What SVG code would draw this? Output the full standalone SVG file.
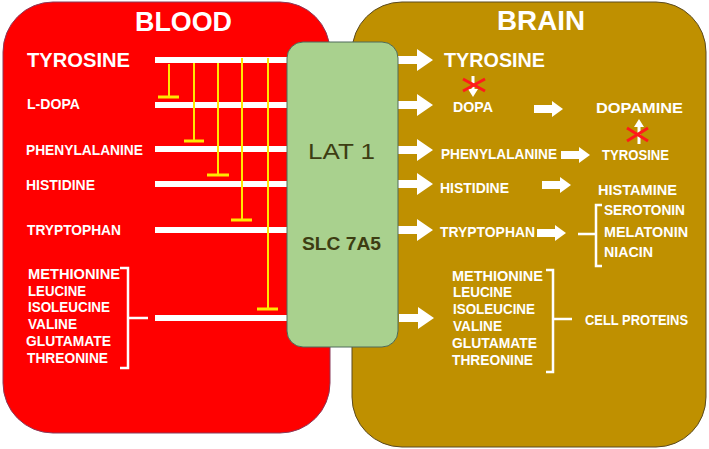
<svg xmlns="http://www.w3.org/2000/svg" width="709" height="449" viewBox="0 0 709 449">
<defs>
<style>
text{font-family:"Liberation Sans",Arial,sans-serif;font-weight:bold;fill:#ffffff}
.big{font-size:28px}
.tit{font-size:20px}
.lab{font-size:14px}
.grn{fill:#3d3d12;font-weight:normal}
.wl{stroke:#ffffff;stroke-width:6;fill:none}
.yl{stroke:#ffe800;stroke-width:2;fill:none}
.yb{stroke:#ffe800;stroke-width:3;fill:none}
.br{stroke:#ffffff;stroke-width:2.5;fill:none}
.rx{stroke:#ff1a1a;stroke-width:3;fill:none}
.th{stroke:#ffffff;stroke-width:3;fill:none}
</style>
<path id="bigArrow" d="M0,-4 H19 V-11 L35,0 L19,11 V4 H0 Z" fill="#ffffff"/>
<path id="smallArrow" d="M0,-4 H18 V-8 L29,0 L18,8 V4 H0 Z" fill="#ffffff"/>
</defs>

<g id="blood">
<rect x="3" y="2" width="327" height="431" rx="50" ry="50" fill="#ff0000" stroke="#8a3a5a" stroke-width="1"/>
<text class="big" x="135" y="31" textLength="97" lengthAdjust="spacingAndGlyphs">BLOOD</text>
</g>

<g id="brain">
<rect x="352" y="2" width="354" height="445" rx="50" ry="50" fill="#bf9000" stroke="#5a4a20" stroke-width="1"/>
<text class="big" x="497" y="30" textLength="88" lengthAdjust="spacingAndGlyphs">BRAIN</text>
</g>

<g id="blood-labels">
<text class="tit" x="27" y="67" textLength="103" lengthAdjust="spacingAndGlyphs">TYROSINE</text>
<text class="lab" x="27" y="109" textLength="53" lengthAdjust="spacingAndGlyphs">L-DOPA</text>
<text class="lab" x="26" y="155" textLength="117" lengthAdjust="spacingAndGlyphs">PHENYLALANINE</text>
<text class="lab" x="26" y="190" textLength="69" lengthAdjust="spacingAndGlyphs">HISTIDINE</text>
<text class="lab" x="27" y="235" textLength="94" lengthAdjust="spacingAndGlyphs">TRYPTOPHAN</text>
<text class="lab" x="28" y="279" textLength="92" lengthAdjust="spacingAndGlyphs">METHIONINE</text>
<text class="lab" x="28" y="296" textLength="58" lengthAdjust="spacingAndGlyphs">LEUCINE</text>
<text class="lab" x="28" y="312" textLength="82" lengthAdjust="spacingAndGlyphs">ISOLEUCINE</text>
<text class="lab" x="28" y="329" textLength="49" lengthAdjust="spacingAndGlyphs">VALINE</text>
<text class="lab" x="26" y="346" textLength="85" lengthAdjust="spacingAndGlyphs">GLUTAMATE</text>
<text class="lab" x="27" y="363" textLength="81" lengthAdjust="spacingAndGlyphs">THREONINE</text>
</g>

<g id="brain-labels">
<text class="tit" x="444" y="67" textLength="101" lengthAdjust="spacingAndGlyphs">TYROSINE</text>
<text class="lab" x="453" y="112" textLength="40" lengthAdjust="spacingAndGlyphs">DOPA</text>
<text class="lab" x="596" y="113" textLength="87" lengthAdjust="spacingAndGlyphs">DOPAMINE</text>
<text class="lab" x="441" y="159" textLength="116" lengthAdjust="spacingAndGlyphs">PHENYLALANINE</text>
<text class="lab" x="602" y="160" textLength="67" lengthAdjust="spacingAndGlyphs">TYROSINE</text>
<text class="lab" x="440" y="193" textLength="69" lengthAdjust="spacingAndGlyphs">HISTIDINE</text>
<text class="lab" x="598" y="195" textLength="79" lengthAdjust="spacingAndGlyphs">HISTAMINE</text>
<text class="lab" x="440" y="237" textLength="95" lengthAdjust="spacingAndGlyphs">TRYPTOPHAN</text>
<text class="lab" x="604" y="215" textLength="81" lengthAdjust="spacingAndGlyphs">SEROTONIN</text>
<text class="lab" x="604" y="237" textLength="84" lengthAdjust="spacingAndGlyphs">MELATONIN</text>
<text class="lab" x="604" y="257" textLength="49" lengthAdjust="spacingAndGlyphs">NIACIN</text>
<text class="lab" x="452" y="281" textLength="91" lengthAdjust="spacingAndGlyphs">METHIONINE</text>
<text class="lab" x="453" y="297" textLength="59" lengthAdjust="spacingAndGlyphs">LEUCINE</text>
<text class="lab" x="453" y="314" textLength="82" lengthAdjust="spacingAndGlyphs">ISOLEUCINE</text>
<text class="lab" x="453" y="331" textLength="49" lengthAdjust="spacingAndGlyphs">VALINE</text>
<text class="lab" x="452" y="348" textLength="85" lengthAdjust="spacingAndGlyphs">GLUTAMATE</text>
<text class="lab" x="452" y="365" textLength="81" lengthAdjust="spacingAndGlyphs">THREONINE</text>
<text class="lab" x="585" y="325" textLength="103" lengthAdjust="spacingAndGlyphs">CELL PROTEINS</text>
</g>

<g id="connectors">
<line class="wl" x1="155" y1="60" x2="290" y2="60"/>
<line class="wl" x1="155" y1="105" x2="290" y2="105"/>
<line class="wl" x1="155" y1="149" x2="290" y2="149"/>
<line class="wl" x1="155" y1="184" x2="290" y2="184"/>
<line class="wl" x1="155" y1="230" x2="290" y2="230"/>
<line class="wl" x1="155" y1="318" x2="290" y2="318"/>

<line class="yl" x1="169" y1="64" x2="169" y2="97"/>
<line class="yb" x1="158" y1="97" x2="179" y2="97"/>
<line class="yl" x1="194" y1="63" x2="194" y2="141"/>
<line class="yb" x1="184" y1="141" x2="204" y2="141"/>
<line class="yl" x1="218" y1="63" x2="218" y2="175"/>
<line class="yb" x1="207" y1="175" x2="229" y2="175"/>
<line class="yl" x1="242" y1="58" x2="242" y2="220"/>
<line class="yb" x1="231" y1="220" x2="252" y2="220"/>
<line class="yl" x1="268" y1="58" x2="268" y2="309"/>
<line class="yb" x1="257" y1="309" x2="278" y2="309"/>

<path class="br" d="M120,268 H128 V368 H120 M128,318 H148"/>
<path class="br" d="M602,205 H596 V266 H602 M578,234 H596"/>
<path class="br" d="M546,270 H553 V372 H546 M553,319 H572"/>

<use href="#bigArrow" x="398" y="60"/>
<use href="#bigArrow" x="398" y="105"/>
<use href="#bigArrow" x="398" y="150"/>
<use href="#bigArrow" x="398" y="184"/>
<use href="#bigArrow" x="398" y="230"/>
<use href="#bigArrow" x="399" y="318"/>

<use href="#smallArrow" x="534" y="109"/>
<use href="#smallArrow" x="561" y="155"/>
<use href="#smallArrow" x="542" y="185"/>
<use href="#smallArrow" x="537" y="233"/>

<line class="th" x1="473" y1="76" x2="473" y2="90"/>
<polygon points="468,89 478,89 473,97" fill="#ffffff"/>
<line class="rx" x1="463" y1="79" x2="485" y2="91"/>
<line class="rx" x1="463" y1="91" x2="485" y2="79"/>

<line class="th" x1="639" y1="144" x2="639" y2="126"/>
<polygon points="634,127 644,127 639,119" fill="#ffffff"/>
<line class="rx" x1="627" y1="128" x2="648" y2="141"/>
<line class="rx" x1="627" y1="141" x2="648" y2="128"/>
</g>

<g id="lat1">
<rect x="287" y="42" width="111" height="305" rx="16" ry="16" fill="#a9d18e" stroke="#4e6b5a" stroke-width="1"/>
<text class="grn" x="308" y="159" font-size="22" textLength="67" lengthAdjust="spacingAndGlyphs">LAT  1</text>
<text class="grn" x="302" y="250" font-size="18" style="font-weight:bold" textLength="79" lengthAdjust="spacingAndGlyphs">SLC 7A5</text>
</g>
</svg>
